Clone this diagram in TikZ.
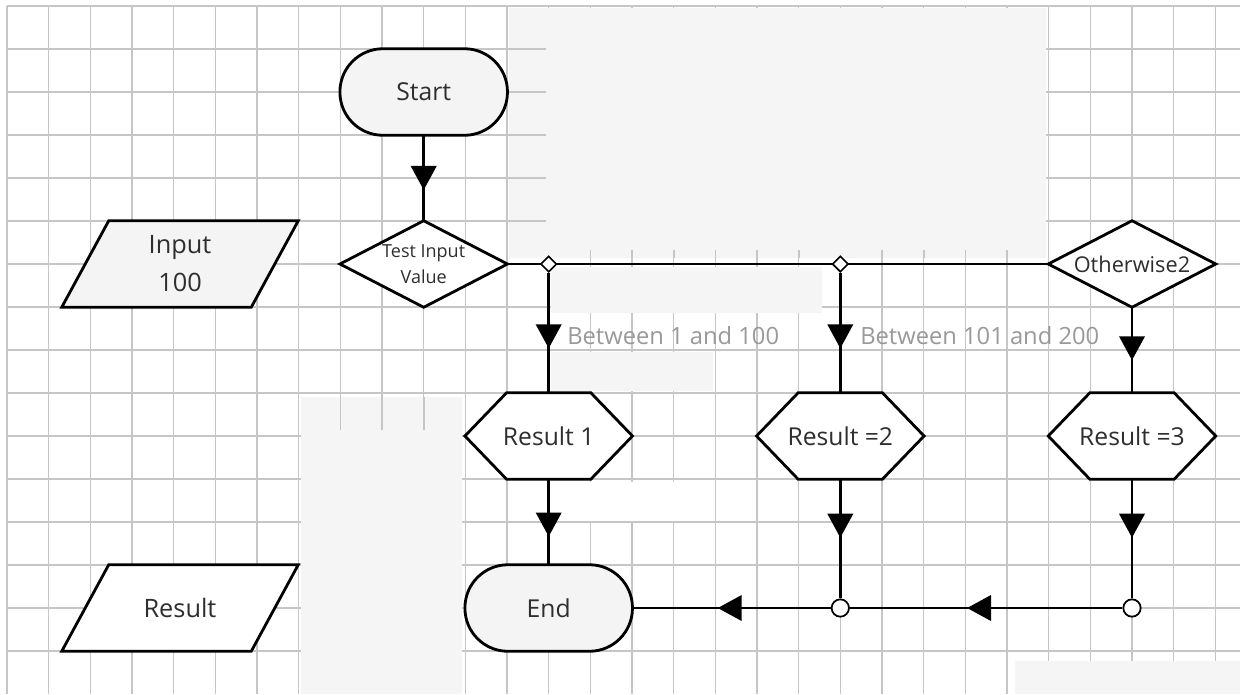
\documentclass[tikz,border=0pt]{standalone}
\usepackage{fontspec}
\setmainfont{Open Sans}
\usetikzlibrary{arrows.meta,decorations.markings,shapes.geometric}
\definecolor{gridc}{HTML}{C6C6C6}
\definecolor{patch}{HTML}{F5F5F5}
\definecolor{txt}{HTML}{2E2E2E}
\definecolor{lbl}{HTML}{999999}
\definecolor{lightfill}{HTML}{F4F4F4}
\pgfdeclarelayer{bg}
\pgfdeclarelayer{shp}
\pgfsetlayers{bg,shp,main}
\begin{document}
\begin{tikzpicture}[x=0.75pt,y=-0.75pt,
  box/.style={rectangle, inner sep=0pt, minimum width=125.25pt, minimum height=64.5pt, text=txt, font=\fontsize{18.5}{22}\selectfont, align=center},
  iobox/.style={box, minimum width=177pt},
  outl/.style={draw=black, line width=2.1pt, line join=miter},
  conn/.style={draw=black, line width=2.1pt},
  midarrow/.style={postaction={decorate}, decoration={markings, mark=at position #1 with {\arrow{Triangle[width=19pt,length=18pt]}}}},
  jd/.style={diamond, draw=black, line width=1.2pt, fill=white, minimum size=12pt, inner sep=0pt},
  jc/.style={circle, draw=black, line width=1.3pt, fill=white, minimum size=13pt, inner sep=0pt},
  lab/.style={text=lbl, font=\fontsize{17.8}{20}\selectfont, anchor=west, inner sep=0pt},
  gl/.style={draw=gridc, line width=1.2pt}
]
\useasboundingbox (0,0) rectangle (1240,694);
% background grid and patches
\begin{pgfonlayer}{bg}
  \fill[white] (0,0) rectangle (1240,694);
  \foreach \k in {0,...,29} \draw[gl] ({7+41.667*\k},6) -- ({7+41.667*\k},694);
  \foreach \k in {0,...,15} \draw[gl] (7,{6+43*\k}) -- (1240,{6+43*\k});
  \fill[patch] (509,8) rectangle (1046,258);
  \foreach \y in {49,92,135,178,221} \draw[gl] (507,\y) -- (546,\y);
  \foreach \x in {590.3,632,673.7,715.3,757,798.7,882,923.7,965.3,1007} \draw[gl] (\x,250) -- (\x,258);
  \fill[patch] (551,267) rectangle (822,313);
  \fill[patch] (551,352) rectangle (713,391);
  \fill[patch] (301,397) rectangle (462,694);
  \foreach \x in {340.3,382,423.7} \draw[gl] (\x,397) -- (\x,430);
  \fill[white] (557,482) rectangle (683,521);
  \fill[patch] (1015,661) rectangle (1240,694);
\end{pgfonlayer}

% nodes
\node[box] (start) at (423.7,92) {Start};
\node[box, font=\fontsize{13.5}{19.5}\selectfont] (test) at (423.7,264) {Test Input\\Value};
\node[iobox, font=\fontsize{19}{28.5}\selectfont] (inp) at (180,264) {Input\\100};
\node[box, font=\fontsize{16.3}{19}\selectfont] (oth) at (1132,264) {Otherwise2};
\node[box] (r1) at (548.7,436) {Result 1};
\node[box] (r2) at (840.3,436) {Result =2};
\node[box] (r3) at (1132,436) {Result =3};
\node[box] (endn) at (548.7,608) {End};
\node[iobox, font=\fontsize{19}{22}\selectfont] (outp) at (180,608) {Result};

% shape outlines
\begin{pgfonlayer}{shp}
  \foreach \n in {start,endn}
    \draw[outl, fill=lightfill, rounded corners=32.25pt] (\n.north west) rectangle (\n.south east);
  \foreach \n in {test,oth}
    \draw[outl, fill=white] (\n.north) -- (\n.east) -- (\n.south) -- (\n.west) -- cycle;
  \foreach \n in {r1,r2,r3}
    \draw[outl, fill=white] ([xshift=31.25pt]\n.north west) -- ([xshift=-31.25pt]\n.north east) -- (\n.east)
      -- ([xshift=-31.25pt]\n.south east) -- ([xshift=31.25pt]\n.south west) -- (\n.west) -- cycle;
  \draw[outl, fill=lightfill] ([xshift=35.25pt]inp.north west) -- (inp.north east) -- ([xshift=-35.25pt]inp.south east) -- (inp.south west) -- cycle;
  \draw[outl, fill=white] ([xshift=35.25pt]outp.north west) -- (outp.north east) -- ([xshift=-35.25pt]outp.south east) -- (outp.south west) -- cycle;
\end{pgfonlayer}

% connectors
\draw[conn] (test.east) -- (oth.west);
\node[jd] (j1) at (548.7,264) {};
\node[jd] (j2) at (840.3,264) {};
\node[jc] (j3) at (840.3,608) {};
\node[jc] (j4) at (1132,608) {};

\draw[conn, midarrow=0.64] (start) -- (test);
\draw[conn, midarrow=0.63] (j1) -- (r1);
\draw[conn, midarrow=0.63] (j2) -- (r2);
\draw[conn, midarrow=0.62] (oth) -- (r3);
\draw[conn, midarrow=0.67] (r1) -- (endn);
\draw[conn, midarrow=0.49] (r2) -- (j3);
\draw[conn, midarrow=0.49] (r3) -- (j4);
\draw[conn, midarrow=0.57] (j4) -- (j3);
\draw[conn, midarrow=0.57] (j3) -- (endn);

% labels
\node[lab] (l1) at (567,336) {Between 1 and 100};
\node[lab] (l2) at (860,336) {Between 101 and 200};
\end{tikzpicture}
\end{document}
